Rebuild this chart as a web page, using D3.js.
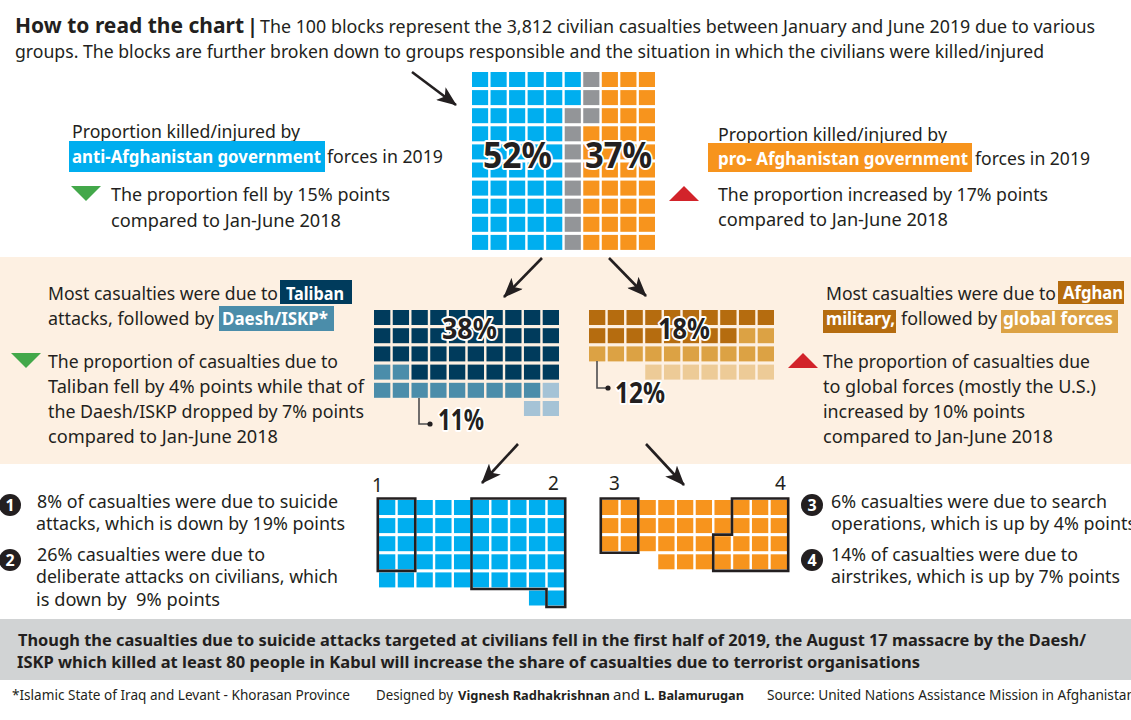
<!DOCTYPE html>
<html>
<head>
<meta charset="utf-8">
<script src="https://cdnjs.cloudflare.com/ajax/libs/d3/7.8.5/d3.min.js"></script>
<style>
    html, body { margin: 0; padding: 0; background: #fff; overflow: hidden; }
    svg { display: block; }
    text { font-family: "Noto Sans", sans-serif; fill: #231f20; white-space: pre; }
</style>
</head>
<body>
<div id="chart"></div>
<script>
// one string per row of blocks, one letter per block, "." = no block
let allBlocks = [
    "AAAAAANPPP",
    "AAAAAANPPP",
    "AAAAANNPPP",
    "AAAAANPPPP",
    "AAAAANPPPP",
    "AAAAANPPPP",
    "AAAAANPPPP",
    "AAAAANPPPP",
    "AAAAANPPPP",
    "AAAAANPPPP"
];
let antiBlocks = [
    "TTTTTTTTTT",
    "TTTTTTTTTT",
    "TTTTTTTTTT",
    "DDTTTTTTTT",
    "DDDDDDDDDO",
    "........OO"
];
let proBlocks = [
    "MMMMMMMMMM",
    "MMMMMMMMGG",
    "GGGGGGGGGG",
    "...FFFFFFF"
];
let antiSituation = [
    "SSAAADDDDD",
    "SSAAADDDDD",
    "SSAAADDDDD",
    "SSAAADDDDD",
    "AAAAADDDDD",
    "........AD"
];
let proSituation = [
    "RRAAAAAIII",
    "RRAAAAAIII",
    "RRAAAAIIII",
    "...AAAIIII"
];

let introLine1 = "The 100 blocks represent the 3,812 civilian casualties between January and June 2019 due to various";
let introLine2 = "groups. The blocks are further broken down to groups responsible and the situation in which the civilians were killed/injured";
let summaryLines = [
    "Though the casualties due to suicide attacks targeted at civilians fell in the first half of 2019, the August 17 massacre by the Daesh/",
    "ISKP which killed at least 80 people in Kabul will increase the share of casualties due to terrorist organisations"
];

const ink = "#231f20";
const width = 1131, height = 720;

let svg = d3.select("#chart").append("svg").attr("width", width).attr("height", height);

svg.append("defs").append("marker")
    .attr("id", "head")
    .attr("viewBox", "0 0 20 16")
    .attr("refX", 19).attr("refY", 8)
    .attr("markerWidth", 20).attr("markerHeight", 16)
    .attr("markerUnits", "userSpaceOnUse")
    .attr("orient", "auto")
    .append("path")
    .attr("d", "M0,0 L20,8 L0,16 L5,8 Z")
    .attr("fill", ink);

// background bands
svg.append("rect").attr("x", 0).attr("y", 257).attr("width", width).attr("height", 207).attr("fill", "#fdf0e2");
svg.append("rect").attr("x", 0).attr("y", 619).attr("width", width).attr("height", 61).attr("fill", "#d1d3d4");

function waffle(rows, colors, x0, x1, yTop, rowStep, cellH) {
    let x = d3.scaleBand().domain(d3.range(rows[0].length)).range([x0, x1]).paddingInner(0.13);
    let y = d3.scaleBand().domain(d3.range(rows.length))
        .range([yTop, yTop + rowStep * rows.length - (rowStep - cellH)])
        .paddingInner((rowStep - cellH) / rowStep);
    let cells = [];
    rows.forEach((row, r) => row.split("").forEach((code, c) => {
        if (code !== ".") cells.push({r: r, c: c, code: code});
    }));
    svg.append("g").selectAll("rect").data(cells).enter().append("rect")
        .attr("x", d => x(d.c))
        .attr("y", d => y(d.r))
        .attr("width", x.bandwidth())
        .attr("height", y.bandwidth())
        .attr("fill", d => typeof colors === "string" ? colors : colors[d.code]);
    return {x: x, y: y, cells: cells};
}

// outline round all the blocks of one code, edge by edge
function outline(w, rows, code) {
    let gapX = w.x.step() - w.x.bandwidth(), gapY = w.y.step() - w.y.bandwidth();
    let has = (r, c) => rows[r] && rows[r][c] === code;
    let p = d3.path();
    w.cells.filter(d => d.code === code).forEach(d => {
        let l = w.x(d.c) - gapX / 2, t = w.y(d.r) - gapY / 2;
        let rr = l + w.x.step(), b = t + w.y.step();
        if (!has(d.r - 1, d.c)) { p.moveTo(l, t); p.lineTo(rr, t); }
        if (!has(d.r + 1, d.c)) { p.moveTo(l, b); p.lineTo(rr, b); }
        if (!has(d.r, d.c - 1)) { p.moveTo(l, t); p.lineTo(l, b); }
        if (!has(d.r, d.c + 1)) { p.moveTo(rr, t); p.lineTo(rr, b); }
    });
    svg.append("path").attr("d", p.toString())
        .attr("fill", "none").attr("stroke", ink).attr("stroke-width", 2.6)
        .attr("stroke-linecap", "square");
}

waffle(allBlocks, {A: "#00aeef", N: "#939598", P: "#f7941d"}, 472, 655, 72, 18.1, 15);
waffle(antiBlocks, {T: "#003b5c", D: "#4b8daa", O: "#a5c3d6"}, 374, 559, 310, 18.2, 15);
waffle(proBlocks, {M: "#b56c0f", G: "#dca244", F: "#edcb97"}, 589, 774, 310, 18.2, 15);
let w3 = waffle(antiSituation, "#00aeef", 379, 564, 500, 18.1, 15);
let w4 = waffle(proSituation, "#f7941d", 602, 787, 500, 18.1, 15);
outline(w3, antiSituation, "S");
outline(w3, antiSituation, "D");
outline(w4, proSituation, "R");
outline(w4, proSituation, "I");

function label(x, y, str, w, opts) {
    opts = opts || {};
    let t = svg.append("text").attr("x", x).attr("y", y).text(str)
        .attr("font-size", opts.size || 18)
        .attr("font-weight", opts.bold ? 700 : 400);
    if (w) t.attr("textLength", w).attr("lengthAdjust", "spacingAndGlyphs");
    if (opts.color) t.style("fill", opts.color);
    return t;
}

function tag(x0, x1, y0, y1, baseline, str, color, tx, w) {
    svg.append("rect").attr("x", x0).attr("y", y0).attr("width", x1 - x0).attr("height", y1 - y0).attr("fill", color);
    label(tx, baseline, str, w, {bold: true, color: "#fff"});
}

function pct(x, y, str, w, size) {
    label(x, y, str, w, {bold: true, size: size})
        .attr("stroke", "#fff").attr("stroke-width", 3.8).attr("paint-order", "stroke").attr("stroke-linejoin", "round");
}

function arrow(x1, y1, x2, y2) {
    svg.append("line").attr("x1", x1).attr("y1", y1).attr("x2", x2).attr("y2", y2)
        .attr("stroke", ink).attr("stroke-width", 2.6).attr("marker-end", "url(#head)");
}

function tri(a, b, c, color) {
    svg.append("path").attr("d", d3.line()([a, b, c]) + "Z").attr("fill", color);
}

function leader(points, dot) {
    svg.append("path").attr("d", d3.line()(points)).attr("fill", "none").attr("stroke", "#4d4d4f").attr("stroke-width", 1.6);
    svg.append("circle").attr("cx", dot[0]).attr("cy", dot[1]).attr("r", 2.6).attr("fill", ink);
}

function badge(cx, cy, r, n) {
    svg.append("circle").attr("cx", cx).attr("cy", cy).attr("r", r).attr("fill", ink);
    label(cx, cy + 6, n, null, {bold: true, size: 16, color: "#fff"}).attr("text-anchor", "middle");
}

// header
label(15, 33, "How to read the chart", 229, {bold: true, size: 22});
label(247, 33, "|", null, {bold: true, size: 20});
label(260, 33, introLine1, 835);
label(15, 58, introLine2, 1029);

// top level
arrow(412, 72, 456, 105);
label(72, 138, "Proportion killed/injured by", 228);
tag(69, 325, 141, 172, 163, "anti-Afghanistan government", "#00aeef", 72, 249);
label(327, 163, "forces in 2019", 116);
tri([71, 186], [101, 186], [86, 201], "#43a84a");
label(111, 201, "The proportion fell by 15% points", 279);
label(111, 227, "compared to Jan-June 2018", 230);

label(718, 141, "Proportion killed/injured by", 229);
tag(708, 972, 143, 172, 165, "pro- Afghanistan government", "#f7941d", 718, 250);
label(975, 165, "forces in 2019", 115);
tri([669, 201], [699, 201], [684, 186], "#d2232a");
label(718, 201, "The proportion increased by 17% points", 330);
label(718, 226, "compared to Jan-June 2018", 230);

pct(483, 168, "52%", 69, 35);
pct(585, 168, "37%", 67, 35);

// middle band
arrow(542, 258, 504, 297);
arrow(609, 258, 646, 296);

label(48, 300, "Most casualties were due to", 230);
tag(280, 352, 280, 304, 300, "Taliban", "#003b5c", 286, 58);
label(48, 325, "attacks, followed by", 166);
tag(219, 334, 306, 331, 325, "Daesh/ISKP*", "#4b8daa", 222, 106);
tri([11, 353], [41, 353], [26, 368], "#43a84a");
label(48, 368, "The proportion of casualties due to", 290);
label(48, 393, "Taliban fell by 4% points while that of", 316);
label(48, 418, "the Daesh/ISKP dropped by 7% points", 316);
label(48, 443, "compared to Jan-June 2018", 230);

label(826, 300, "Most casualties were due to", 230);
tag(1058, 1124, 281, 304, 299, "Afghan", "#b56c0f", 1063, 60);
tag(823, 896, 310, 333, 325, "military,", "#b56c0f", 826, 69);
label(901, 325, "followed by", 96);
tag(1001, 1118, 310, 333, 325, "global forces", "#dca244", 1003, 110);
tri([788, 368], [818, 368], [803, 353], "#d2232a");
label(823, 368, "The proportion of casualties due", 267);
label(823, 393, "to global forces (mostly the U.S.)", 273);
label(823, 418, "increased by 10% points", 202);
label(823, 443, "compared to Jan-June 2018", 230);

pct(442, 339, "38%", 55, 29);
pct(658, 339, "18%", 52, 29);
leader([[419, 398], [419, 424], [430, 424]], [430, 424]);
pct(438, 430, "11%", 46, 28);
leader([[597, 361], [597, 388], [608, 388]], [608, 388]);
pct(615, 403, "12%", 50, 28);

// bottom blocks
arrow(518, 444, 482, 483);
arrow(646, 444, 684, 485);
label(372, 492, "1", null, {size: 19});
label(548, 490, "2", null, {size: 19});
label(609, 490, "3", null, {size: 19});
label(775, 490, "4", null, {size: 19});

badge(10, 505, 11, "1");
label(37, 508, "8% of casualties were due to suicide", 301);
label(36, 530, "attacks, which is down by 19% points", 309);
badge(10, 560, 11, "2");
label(37, 561, "26% casualties were due to", 228);
label(36, 583, "deliberate attacks on civilians, which", 302);
label(36, 606, "is down by  9% points", 184);

badge(812, 505, 11, "3");
label(831, 508, "6% casualties were due to search", 276);
label(831, 530, "operations, which is up by 4% points", 305);
badge(812, 560, 11, "4");
label(831, 561, "14% of casualties were due to", 247);
label(831, 583, "airstrikes, which is up by 7% points", 289);

// summary and footer
label(18, 646, summaryLines[0], 1068, {bold: true, size: 16.5});
label(17, 668, summaryLines[1], 903, {bold: true, size: 16.5});

label(12, 700, "*Islamic State of Iraq and Levant - Khorasan Province", 338, {size: 14});
label(376, 700, "Designed by", 77, {size: 13.5});
label(458, 700, "Vignesh Radhakrishnan", 152, {bold: true, size: 13});
label(613, 700, "and", 27, {size: 13.5});
label(644, 700, "L. Balamurugan", 100, {bold: true, size: 13});
label(767, 700, "Source: United Nations Assistance Mission in Afghanistan", 368, {size: 14});
</script>
</body>
</html>
